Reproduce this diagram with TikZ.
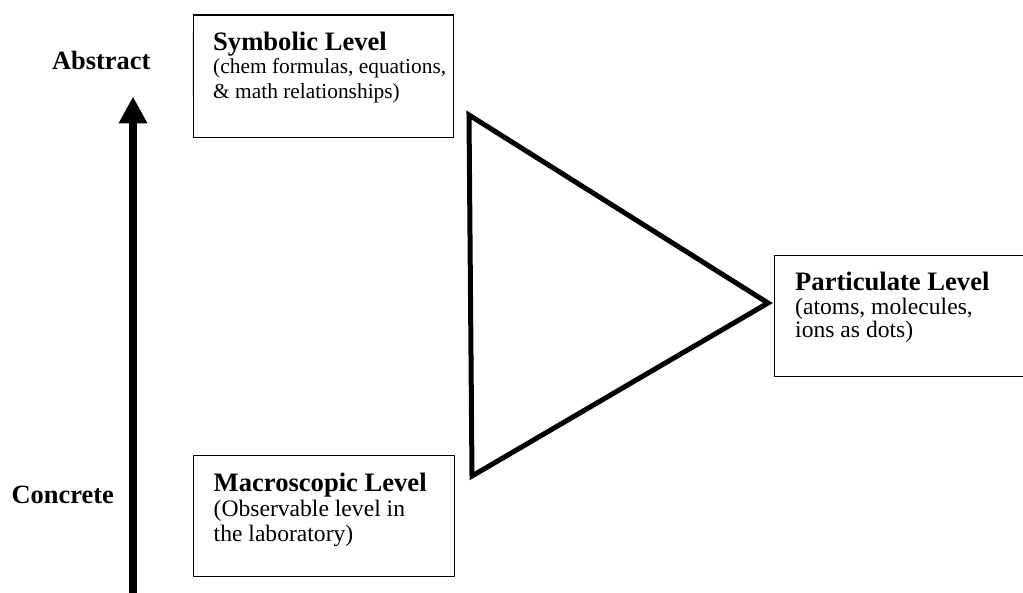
\documentclass[tikz,border=0pt]{standalone}
\usepackage{fontspec}
\setmainfont{Liberation Serif}
\usetikzlibrary{arrows.meta}
\begin{document}
\begin{tikzpicture}[x=1pt,y=-1pt,
  levelbox/.style={draw=black, line width=1.3pt, rectangle, inner sep=0pt, anchor=north west},
  ttl/.style={font=\fontsize{26.6}{30}\selectfont\bfseries, anchor=base west, inner sep=0pt},
  bodyS/.style={font=\fontsize{21.4}{24}\selectfont, anchor=base west, inner sep=0pt},
  bodyL/.style={font=\fontsize{23.6}{26}\selectfont, anchor=base west, inner sep=0pt},
  side/.style={font=\fontsize{26.4}{30}\selectfont\bfseries, anchor=base east, inner sep=0pt}]
\useasboundingbox (0,0) rectangle (1023,593);
\clip (0,0) rectangle (1023,593);
% boxes
\node[levelbox, minimum width=260.3pt, minimum height=122.4pt] (sym) at (192.7,14.3) {};
\draw[gray!25, line width=1.3pt] (sym.north west) ++(0,19) -- ++(0,62);
\node[levelbox, minimum width=261.3pt, minimum height=121pt] (mac) at (192.7,455) {};
\node[levelbox, minimum width=270pt, minimum height=120.7pt] (par) at (774,255) {};
% texts
\node[ttl] (symT) at (213,50.7) {Symbolic Level};
\node[bodyS] (symA) at (213,74) {(chem formulas, equations,};
\node[bodyS] (symB) at (213,99) {\& math relationships)};
\node[ttl] (macT) at (213.5,491) {Macroscopic Level};
\node[bodyL] (macA) at (213.5,516.7) {(Observable level in};
\node[bodyL] (macB) at (213.5,541.7) {the laboratory)};
\node[ttl] (parT) at (795,290.7) {Particulate Level};
\node[bodyL] (parA) at (795,315) {(atoms, molecules,};
\node[bodyL] (parB) at (795,338) {ions as dots)};
\node[side] (abs) at (150.5,69.3) {Abstract};
\node[side] (con) at (114,503) {Concrete};
% triangle
\coordinate (t1) at (469,115);
\coordinate (t2) at (472,476);
\coordinate (t3) at (768,303);
\draw[line width=5pt, line join=miter] (t1) -- (t2) -- (t3) -- cycle;
% arrow
\coordinate (abot) at (133,600);
\coordinate (atop) at (133,96.5);
\draw[line width=7.5pt, -{Triangle[length=27pt, width=27pt]}] (abot) -- (atop);
\end{tikzpicture}
\end{document}
